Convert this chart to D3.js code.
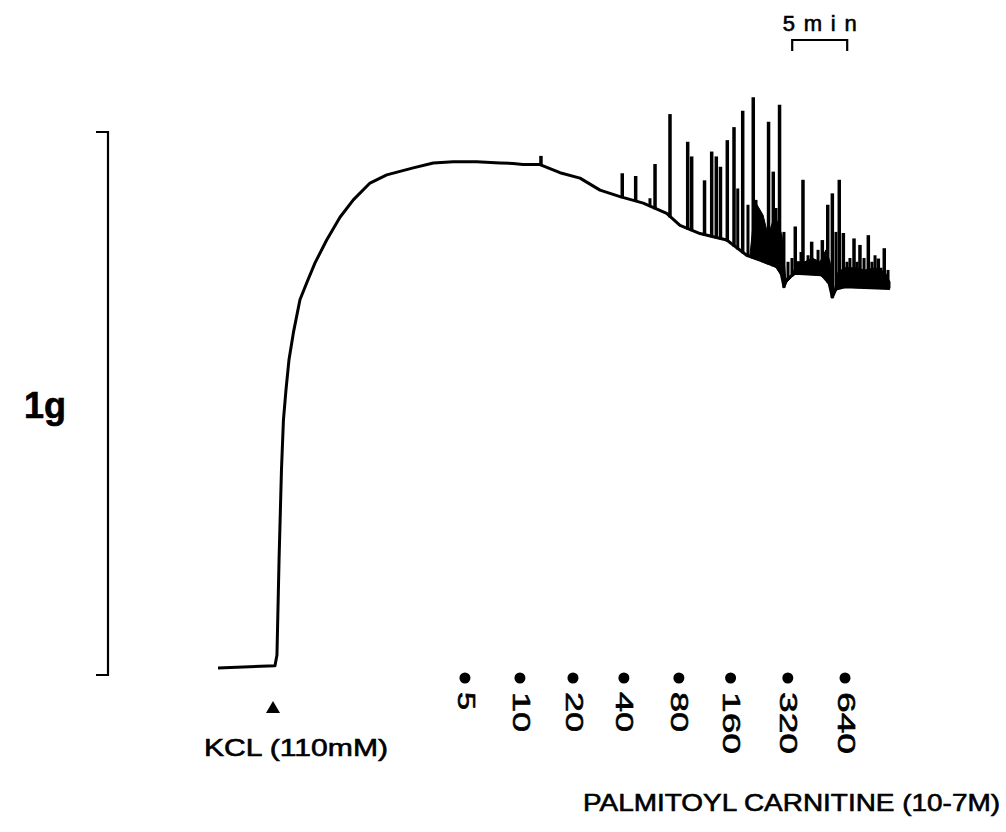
<!DOCTYPE html>
<html>
<head>
<meta charset="utf-8">
<script src="https://cdn.jsdelivr.net/npm/d3@7"></script>
<style>
  html, body { margin: 0; padding: 0; background: #fff; }
  svg { display: block; font-family: 'Liberation Sans', Arial, sans-serif; }
  text { fill: #000; stroke: #000; stroke-width: 0.6px; }
</style>
</head>
<body>
<div id="chart"></div>
<script>
// Tension recording: time in minutes, tension in grams.
const traceTime = [0, 5.18, 5.36, 5.55, 5.77, 5.95, 6.18, 6.45, 6.85, 7.45, 8.06, 8.82, 9.88,
  11.09, 12.30, 13.82, 15.34, 17.75, 19.57, 21.39, 23.52, 25.64, 26.82, 27.73, 29.27, 31.09,
  32.91, 34.73, 36.55, 38.66, 40.79, 42.0, 43.82, 46.25, 48.06, 49.27, 50.91, 51.18, 51.45,
  51.73, 52.45, 54.88, 55.55, 55.85, 56.18, 57.0, 61.09];
const traceTension = [0.013, 0.017, 0.037, 0.212, 0.378, 0.470, 0.525, 0.580, 0.630, 0.691,
  0.722, 0.759, 0.801, 0.843, 0.875, 0.906, 0.921, 0.934, 0.943, 0.945, 0.945, 0.943, 0.942,
  0.940, 0.940, 0.925, 0.915, 0.893, 0.881, 0.869, 0.850, 0.828, 0.813, 0.801, 0.773, 0.764,
  0.751, 0.742, 0.715, 0.729, 0.740, 0.737, 0.722, 0.696, 0.711, 0.715, 0.712];

// Contraction spikes: time and peak tension.
const spikeTime = [29.36, 36.75, 37.97, 39.73, 41.09, 42.70, 43.06, 44.23, 44.88, 45.30, 45.68,
  46.30, 46.91, 47.70, 48.66, 50.05, 50.48, 51.05, 52.48, 53.18, 53.97, 54.94, 55.43, 55.85,
  56.48, 56.85, 57.82, 58.36, 59.12, 60.03, 60.57];
const spikePeak = [0.956, 0.924, 0.919, 0.941, 1.033, 0.982, 0.955, 0.911, 0.964, 0.955, 0.936,
  0.985, 1.009, 1.039, 1.064, 1.019, 0.927, 1.050, 0.826, 0.912, 0.798, 0.801, 0.866, 0.887,
  0.912, 0.814, 0.804, 0.792, 0.810, 0.767, 0.786];

// Smaller oscillations.
const minorTime = [39.27, 47.25, 48.18, 48.91, 49.18, 49.55, 49.82, 50.73, 51.45, 51.82, 52.18,
  53.0, 53.64, 54.27, 54.55, 56.18, 57.18, 57.45, 58.09, 58.73, 59.45, 59.73, 60.27, 60.91];
const minorPeak = [0.878, 0.896, 0.866, 0.875, 0.853, 0.838, 0.816, 0.860, 0.816, 0.761, 0.768,
  0.779, 0.773, 0.761, 0.783, 0.816, 0.761, 0.768, 0.761, 0.768, 0.761, 0.773, 0.750, 0.746];

// Upper envelope of the dense burst activity.
const burstTime = [48.36, 48.64, 49.0, 49.55, 50.0, 50.64, 51.27, 51.64, 52.09, 52.64, 53.36,
  54.0, 54.73, 55.27, 55.64, 56.0, 56.36, 57.0, 57.91, 58.82, 59.73, 60.64, 61.09];
const burstTension = [0.773, 0.829, 0.866, 0.847, 0.810, 0.847, 0.810, 0.722, 0.731, 0.761,
  0.761, 0.768, 0.761, 0.783, 0.761, 0.705, 0.742, 0.750, 0.750, 0.746, 0.750, 0.742, 0.724];

// Drug additions.
const kclTime = 5.0;
const kclLabel = 'KCL (110mM)';
const doseTime = [22.45, 27.45, 32.27, 36.9, 41.9, 46.6, 51.8, 57.0];
const doseLabels = ['5', '10', '20', '40', '80', '160', '320', '640'];
const drugLabel = 'PALMITOYL CARNITINE (10-7M)';

// Calibration bars.
const timeBarStart = 52.2;
const timeBarLength = 5;
const timeBarLabel = '5min';
const forceBarLabel = '1g';

const width = 1006;
const height = 832;

const svg = d3.select('#chart')
  .append('svg')
  .attr('width', width)
  .attr('height', height);

const x = d3.scaleLinear().domain([0, 61]).range([218, 889]);
const y = d3.scaleLinear().domain([0, 1]).range([675, 132]);

// baseline tension at any time, used to seat spikes on the trace
const baseAt = d3.scaleLinear().domain(traceTime).range(traceTension);

const trace = traceTime.map((t, i) => [t, traceTension[i]]);
const line = d3.line().x(d => x(d[0])).y(d => y(d[1]));

// dense burst fill
const burst = burstTime.map((t, i) => [t, burstTension[i]]);
svg.append('path')
  .datum(burst)
  .attr('fill', '#000')
  .attr('stroke', '#000')
  .attr('stroke-width', 1)
  .attr('d', d3.area()
    .x(d => x(d[0]))
    .y0(d => y(baseAt(d[0])))
    .y1(d => y(d[1])));

svg.append('path')
  .datum(trace)
  .attr('fill', 'none')
  .attr('stroke', '#000')
  .attr('stroke-width', 3)
  .attr('stroke-linejoin', 'round')
  .attr('d', line);

const spikes = spikeTime.map((t, i) => ({ t, peak: spikePeak[i] }));
svg.append('g')
  .attr('stroke', '#000')
  .attr('stroke-width', 3.5)
  .selectAll('line')
  .data(spikes)
  .join('line')
  .attr('x1', d => x(d.t))
  .attr('x2', d => x(d.t))
  .attr('y1', d => y(baseAt(d.t)) + 1)
  .attr('y2', d => y(d.peak));

const minor = minorTime.map((t, i) => ({ t, peak: minorPeak[i] }));
svg.append('g')
  .attr('stroke', '#000')
  .attr('stroke-width', 3)
  .selectAll('line')
  .data(minor)
  .join('line')
  .attr('x1', d => x(d.t))
  .attr('x2', d => x(d.t))
  .attr('y1', d => y(baseAt(d.t)) + 1)
  .attr('y2', d => y(d.peak));

// 1g bracket
svg.append('path')
  .attr('fill', 'none')
  .attr('stroke', '#000')
  .attr('stroke-width', 2.2)
  .attr('d', `M96,${y(1)}H108V${y(0)}H96`);

svg.append('text')
  .attr('x', 24)
  .attr('y', 418)
  .attr('font-size', 36)
  .attr('font-weight', 'bold')
  .text(forceBarLabel);

// 5 min bracket
const tb0 = x(timeBarStart);
const tb1 = x(timeBarStart + timeBarLength);
svg.append('path')
  .attr('fill', 'none')
  .attr('stroke', '#000')
  .attr('stroke-width', 2.2)
  .attr('d', `M${tb0},51V40H${tb1}V51`);

svg.append('text')
  .attr('x', (tb0 + tb1) / 2)
  .attr('y', 31)
  .attr('text-anchor', 'middle')
  .attr('font-size', 22)
  .attr('textLength', 74)
  .attr('lengthAdjust', 'spacing')
  .text(timeBarLabel);

// KCL marker
svg.append('path')
  .attr('d', d3.symbol(d3.symbolTriangle, 85))
  .attr('transform', `translate(${x(kclTime)},709)`)
  .attr('fill', '#000');

svg.append('text')
  .attr('x', 204)
  .attr('y', 756)
  .attr('font-size', 24)
  .attr('textLength', 184)
  .attr('lengthAdjust', 'spacingAndGlyphs')
  .text(kclLabel);

// dose markers
const doses = doseTime.map((t, i) => ({ t, label: doseLabels[i] }));
const dose = svg.append('g')
  .selectAll('g')
  .data(doses)
  .join('g')
  .attr('transform', d => `translate(${x(d.t)},0)`);

dose.append('circle')
  .attr('cx', 0)
  .attr('cy', 678)
  .attr('r', 5.5);

dose.append('text')
  .attr('transform', 'translate(1,692) rotate(90)')
  .attr('dy', '0.35em')
  .attr('font-size', 24)
  .attr('textLength', d => d.label.length * 22 - 4)
  .attr('lengthAdjust', 'spacingAndGlyphs')
  .text(d => d.label);

svg.append('text')
  .attr('x', 583)
  .attr('y', 811)
  .attr('font-size', 24)
  .attr('textLength', 417)
  .attr('lengthAdjust', 'spacingAndGlyphs')
  .text(drugLabel);
</script>
</body>
</html>
